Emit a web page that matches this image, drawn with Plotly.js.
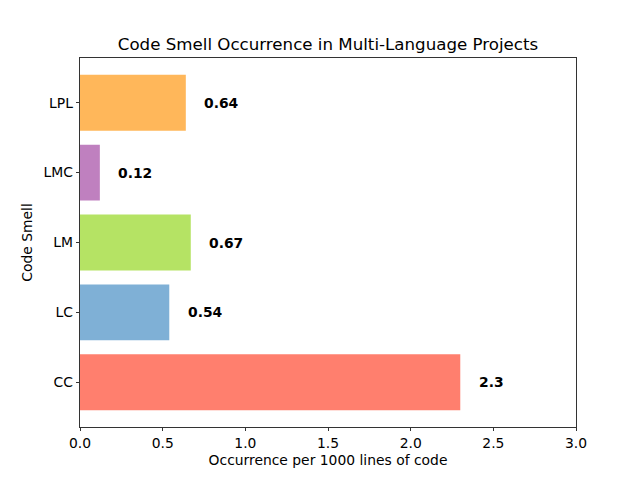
<!DOCTYPE html>
<html>
<head>
<meta charset="utf-8">
<script src="https://cdn.plot.ly/plotly-3.0.1.min.js"></script>
<style>html,body{margin:0;padding:0;background:#fff;}#chart{width:640px;height:480px;}</style>
</head>
<body>
<div id="chart"></div>
<script>
const categories = ["CC", "LC", "LM", "LMC", "LPL"];
const values = [2.3, 0.54, 0.67, 0.12, 0.64];
const colors = ["#ff7f6e", "#7fb0d6", "#b5e364", "#bf80bf", "#ffb75a"];
const labelOffset = 0.1;

const trace = {
  type: "bar",
  orientation: "h",
  x: values,
  y: categories,
  width: 0.8,
  marker: {color: colors, line: {width: 0}},
  hoverinfo: "none"
};

const annotations = values.map((v, i) => ({
  x: v + labelOffset,
  y: categories[i],
  xref: "x",
  yref: "y",
  text: "<b>" + v + "</b>",
  showarrow: false,
  xanchor: "left",
  yanchor: "middle",
  font: {family: "DejaVu Sans", size: 13.89, color: "#000"}
}));

const layout = {
  width: 640,
  height: 480,
  paper_bgcolor: "#fff",
  plot_bgcolor: "#fff",
  margin: {l: 80, r: 64, t: 58, b: 53, pad: 0},
  font: {family: "DejaVu Sans", size: 13.89, color: "#000"},
  title: {text: "Code Smell Occurrence in Multi-Language Projects", font: {family: "DejaVu Sans", size: 16.67, color: "#000"}, xref: "paper", x: 0.5, xanchor: "center", y: 1 - 50/480, yanchor: "bottom"},
  showlegend: false,
  bargap: 0.2,
  xaxis: {
    range: [0, 3],
    tickvals: [0, 0.5, 1, 1.5, 2, 2.5, 3],
    ticktext: ["0.0", "0.5", "1.0", "1.5", "2.0", "2.5", "3.0"],
    ticks: "outside", ticklen: 3.5, tickwidth: 0.8, tickcolor: "#000",
    showline: true, linecolor: "#000", linewidth: 0.8, mirror: true,
    showgrid: false, zeroline: false,
    tickfont: {family: "DejaVu Sans", size: 13.89, color: "#000"},
    title: {text: "Occurrence per 1000 lines of code", font: {family: "DejaVu Sans", size: 13.89, color: "#000"}, standoff: 5}
  },
  yaxis: {
    type: "category",
    categoryorder: "array",
    categoryarray: categories,
    range: [-0.64, 4.64],
    ticks: "outside", ticklen: 3.5, tickwidth: 0.8, tickcolor: "#000",
    showline: true, linecolor: "#000", linewidth: 0.8, mirror: true,
    showgrid: false, zeroline: false,
    tickfont: {family: "DejaVu Sans", size: 13.89, color: "#000"},
    title: {text: "Code Smell", font: {family: "DejaVu Sans", size: 13.89, color: "#000"}, standoff: 7}
  },
  annotations: annotations
};

Plotly.newPlot("chart", [trace], layout, {displayModeBar: false, staticPlot: true});
</script>
</body>
</html>
